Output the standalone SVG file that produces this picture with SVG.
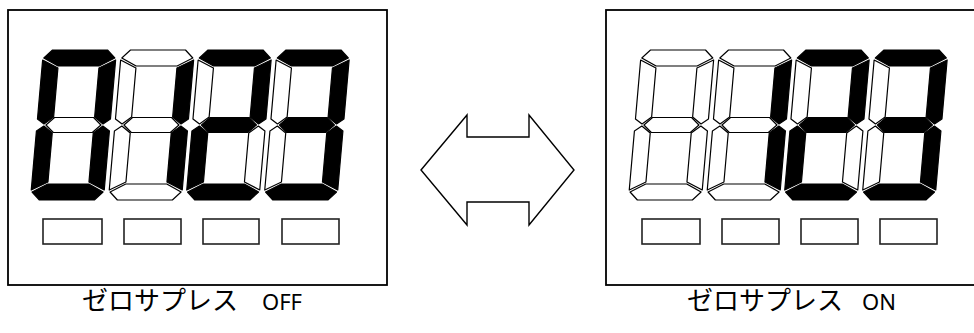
<svg xmlns="http://www.w3.org/2000/svg" xmlns:xlink="http://www.w3.org/1999/xlink" width="974" height="333" viewBox="0 0 974 333">
<style>
.box{fill:#fff;stroke:#000;stroke-width:1.8}
.key{fill:#fff;stroke:#222;stroke-width:1.6}
.on{fill:#000;stroke:#000;stroke-width:1.2;stroke-linejoin:round}
.off{fill:#fff;stroke:#000;stroke-width:1.2;stroke-linejoin:round}
.arrow{fill:#fff;stroke:#000;stroke-width:1.4;stroke-linejoin:miter}
.lbl{font-family:"Noto Sans CJK JP","Noto Sans",sans-serif;font-size:26px;fill:#000}
.lat{font-family:"Noto Sans","Noto Sans CJK JP",sans-serif;font-size:22px}
</style>
<defs>
<polygon id="sa" points="9,0 64,0 72,8 57,16 16,16 1,8"/>
<polygon id="sb" points="73,10 73,69 66,74 57,67 57,18"/>
<polygon id="sc" points="73,81 73,140 57,132 57,83 66,76"/>
<polygon id="sd" points="1,142 16,134 57,134 72,142 64,150 9,150"/>
<polygon id="se" points="0,81 7,76 16,83 16,132 0,140"/>
<polygon id="sf" points="0,10 16,18 16,67 7,74 0,69"/>
<polygon id="sg" points="17,67.5 56,67.5 64,75 56,82.5 17,82.5 9,75"/>
</defs>

<g id="panel-off">
<rect class="box" x="8" y="10" width="379" height="275"/>
<g id="off-d1" transform="translate(43.5,50) skewX(-5)">
<use href="#sa" class="on"/><use href="#sb" class="on"/><use href="#sc" class="on"/><use href="#sd" class="on"/><use href="#se" class="on"/><use href="#sf" class="on"/><use href="#sg" class="off"/>
</g>
<g id="off-d2" transform="translate(121.5,50) skewX(-5)">
<use href="#sa" class="off"/><use href="#sb" class="on"/><use href="#sc" class="on"/><use href="#sd" class="off"/><use href="#se" class="off"/><use href="#sf" class="off"/><use href="#sg" class="off"/>
</g>
<g id="off-d3" transform="translate(199,50) skewX(-5)">
<use href="#sa" class="on"/><use href="#sb" class="on"/><use href="#sc" class="off"/><use href="#sd" class="on"/><use href="#se" class="on"/><use href="#sf" class="off"/><use href="#sg" class="on"/>
</g>
<g id="off-d4" transform="translate(277,50) skewX(-5)">
<use href="#sa" class="on"/><use href="#sb" class="on"/><use href="#sc" class="on"/><use href="#sd" class="on"/><use href="#se" class="off"/><use href="#sf" class="off"/><use href="#sg" class="on"/>
</g>
<rect class="key" x="43" y="219" width="59" height="25"/>
<rect class="key" x="124" y="219" width="57" height="25"/>
<rect class="key" x="203" y="219" width="56" height="25"/>
<rect class="key" x="282" y="219" width="57" height="25"/>
<text class="lbl" x="82" y="310">ゼロサプレス<tspan class="lat" x="262">OFF</tspan></text>
</g>

<g id="switch-arrow">
<polygon class="arrow" points="421,170 467,115 467,137 529,137 529,115 574,170 529,225 529,202 467,202 467,225"/>
</g>

<g id="panel-on">
<rect class="box" x="606" y="10" width="379" height="275"/>
<g id="on-d1" transform="translate(641.5,50) skewX(-5)">
<use href="#sa" class="off"/><use href="#sb" class="off"/><use href="#sc" class="off"/><use href="#sd" class="off"/><use href="#se" class="off"/><use href="#sf" class="off"/><use href="#sg" class="off"/>
</g>
<g id="on-d2" transform="translate(719.5,50) skewX(-5)">
<use href="#sa" class="off"/><use href="#sb" class="on"/><use href="#sc" class="on"/><use href="#sd" class="off"/><use href="#se" class="off"/><use href="#sf" class="off"/><use href="#sg" class="off"/>
</g>
<g id="on-d3" transform="translate(797,50) skewX(-5)">
<use href="#sa" class="on"/><use href="#sb" class="on"/><use href="#sc" class="off"/><use href="#sd" class="on"/><use href="#se" class="on"/><use href="#sf" class="off"/><use href="#sg" class="on"/>
</g>
<g id="on-d4" transform="translate(875,50) skewX(-5)">
<use href="#sa" class="on"/><use href="#sb" class="on"/><use href="#sc" class="on"/><use href="#sd" class="on"/><use href="#se" class="off"/><use href="#sf" class="off"/><use href="#sg" class="on"/>
</g>
<rect class="key" x="642" y="219" width="58" height="25"/>
<rect class="key" x="722" y="219" width="57" height="25"/>
<rect class="key" x="801" y="219" width="57" height="25"/>
<rect class="key" x="880" y="219" width="57" height="25"/>
<text class="lbl" x="687" y="310">ゼロサプレス<tspan class="lat" x="862">ON</tspan></text>
</g>
</svg>
